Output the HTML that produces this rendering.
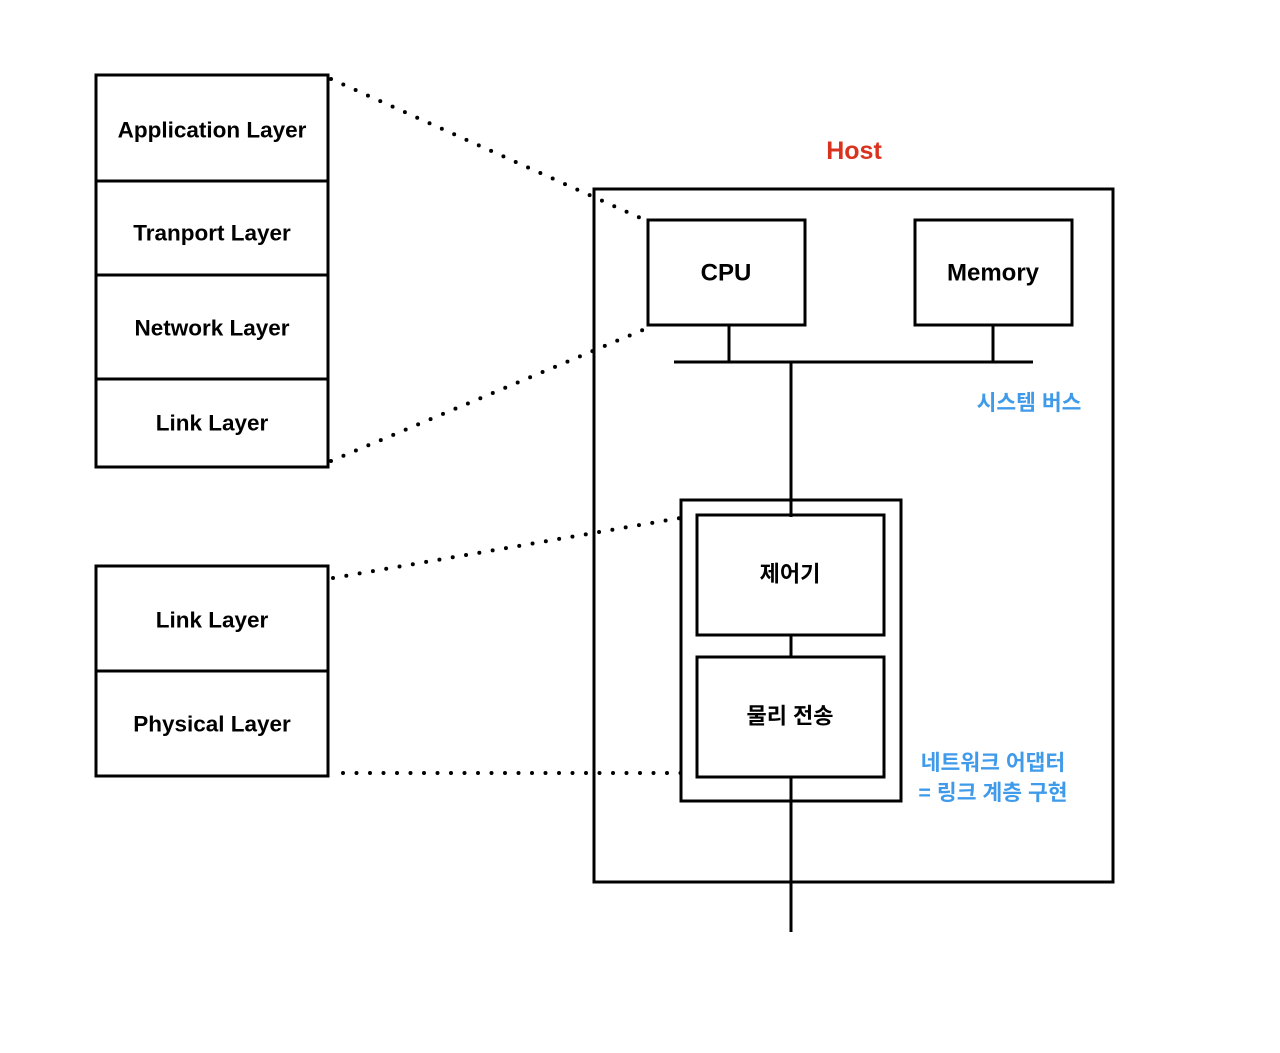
<!DOCTYPE html>
<html><head><meta charset="utf-8"><style>
html,body{margin:0;padding:0;background:#fff;}
svg{display:block}
text{font-family:"Liberation Sans","Noto Sans CJK KR",sans-serif;font-weight:bold;text-anchor:middle;dominant-baseline:central;}
</style></head><body>
<svg width="1280" height="1053" viewBox="0 0 1280 1053">
<g fill="none" stroke="#000" stroke-width="3">
<rect x="96" y="75" width="232" height="392"/>
<line x1="96" y1="181" x2="328" y2="181"/>
<line x1="96" y1="275" x2="328" y2="275"/>
<line x1="96" y1="379" x2="328" y2="379"/>
<rect x="96" y="566" width="232" height="210"/>
<line x1="96" y1="671" x2="328" y2="671"/>
<rect x="594" y="189" width="519" height="693"/>
<rect x="648" y="220" width="157" height="105"/>
<rect x="915" y="220" width="157" height="105"/>
<line x1="674" y1="362" x2="1033" y2="362"/>
<line x1="729" y1="325" x2="729" y2="362"/>
<line x1="993" y1="325" x2="993" y2="362"/>
<line x1="791" y1="362" x2="791" y2="517"/>
<rect x="681" y="500" width="220" height="301"/>
<rect x="697" y="515" width="187" height="120"/>
<rect x="697" y="657" width="187" height="120"/>
<line x1="791" y1="635" x2="791" y2="657"/>
<line x1="791" y1="777" x2="791" y2="932"/>
</g>
<g fill="none" stroke="#000" stroke-width="4" stroke-linecap="round" stroke-dasharray="0 13.5">
<line x1="331" y1="79" x2="645" y2="220"/>
<line x1="331" y1="461" x2="645" y2="329"/>
<line x1="333" y1="578" x2="686" y2="517"/>
<line x1="343" y1="773" x2="686" y2="773"/>
</g>
<g font-size="22.5" fill="#000">
<text x="212" y="130">Application Layer</text>
<text x="212" y="233">Tranport Layer</text>
<text x="212" y="328">Network Layer</text>
<text x="212" y="423">Link Layer</text>
<text x="212" y="620">Link Layer</text>
<text x="212" y="724">Physical Layer</text>
<text x="726" y="273" font-size="24">CPU</text>
<text x="993" y="273" font-size="24">Memory</text>
<text x="790" y="574" font-size="22">제어기</text>
<text x="790" y="716" font-size="22">물리 전송</text>
</g>
<text x="854" y="151" font-size="25" fill="#d9331f">Host</text>
<g font-size="21.5" fill="#3f9bea">
<text x="1029" y="403">시스템 버스</text>
<text x="993" y="763">네트워크 어댑터</text>
<text x="993" y="793">= 링크 계층 구현</text>
</g>
</svg>
</body></html>
